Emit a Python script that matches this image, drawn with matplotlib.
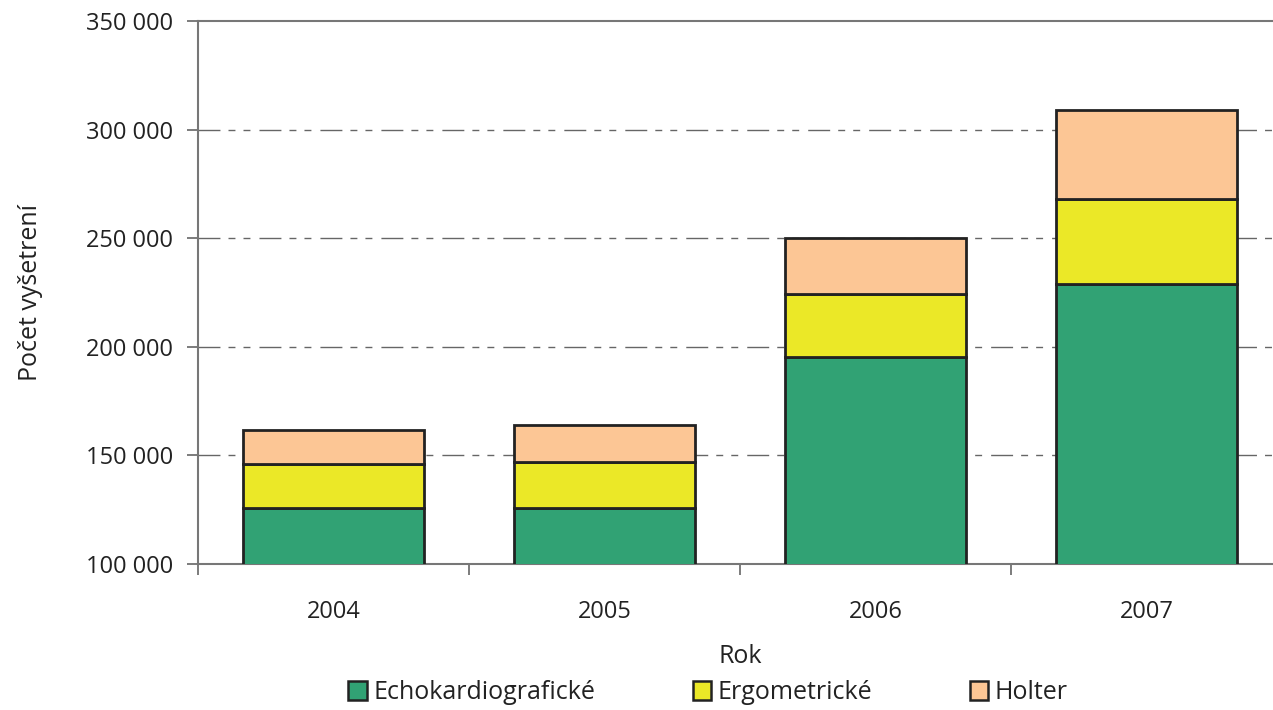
import numpy as np
import matplotlib.pyplot as plt
from matplotlib.patches import Patch
from matplotlib.ticker import FuncFormatter

years = ['2004', '2005', '2006', '2007']
echo = [125800, 126000, 195300, 228900]
ergo = [20200, 21000, 29000, 39100]
holter = [15700, 17000, 25800, 41000]
series_names = ['Echokardiografické', 'Ergometrické', 'Holter']
colors = ['#31A274', '#EBE827', '#FCC695']

plt.rcParams['font.family'] = ['Open Sans', 'DejaVu Sans']

fig = plt.figure(figsize=(12.73, 7.10), dpi=100)
# plot area runs a little past the right edge of the image, as in the original
ax = fig.add_axes([198 / 1273, 1 - 564 / 710, (1282 - 198) / 1273, (564 - 21) / 710])

x = np.arange(len(years))
width = 0.67
bottom = np.zeros(len(years))
for vals, col in zip([echo, ergo, holter], colors):
    ax.bar(x, vals, width, bottom=bottom, color=col, edgecolor='#222222',
           linewidth=2.0, zorder=3)
    bottom += np.array(vals)

ax.set_xlim(-0.5, len(years) - 0.5)
ax.set_ylim(100000, 350000)
ax.set_yticks(np.arange(100000, 350001, 50000))
ax.yaxis.set_major_formatter(FuncFormatter(lambda v, p: f'{int(v):,}'.replace(',', ' ')))
ax.set_xticks(x)
ax.set_xticklabels(years)
ax.set_xticks(np.arange(-0.5, len(years), 1.0), minor=True)
ax.tick_params(axis='x', which='major', length=0, pad=26, labelsize=17, colors='#222222')
ax.tick_params(axis='x', which='minor', length=8, width=1.2, color='#666666', direction='out')
ax.tick_params(axis='y', length=8, width=1.2, color='#666666', labelsize=17,
               labelcolor='#222222', pad=10)

for yv in [150000, 200000, 250000, 300000]:
    ax.axhline(yv, color='#666666', linewidth=1.0,
               dashes=(15.8, 5.8, 5, 5.8, 5, 6.5), zorder=1)

for side in ['left', 'bottom', 'top']:
    ax.spines[side].set_color('#777777')
    ax.spines[side].set_linewidth(1.5)
ax.spines['right'].set_visible(False)

ax.set_ylabel('Počet vyšetrení', fontsize=18, color='#222222', labelpad=31)
ax.set_xlabel('Rok', fontsize=18, color='#222222', labelpad=14)

handles = [Patch(facecolor=c, edgecolor='#222222', linewidth=1.8) for c in colors]
fig.legend(handles, series_names, loc='lower center', bbox_to_anchor=(708 / 1273, -0.025),
           ncol=3, frameon=False, fontsize=18, handlelength=0.75, handleheight=0.75,
           handletextpad=0.25, columnspacing=3.9, labelcolor='#222222')

fig.savefig('out.png', dpi=100)
